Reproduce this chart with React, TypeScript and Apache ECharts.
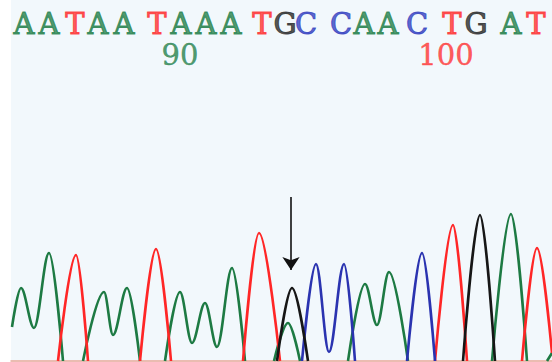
import React, { useEffect, useRef } from "react";
import * as echarts from "echarts";

// Base calls and their scan positions
const baseCalls = ["A","A","T","A","A","T","A","A","A","T","G","C","C","A","A","C","T","G","A","T"];
const baseX = [24,49,75,98,124,157,181,206,231,262,285,306,341,364,388,417,452,476,511,536];
const positionLabels = ["90", "100"];
const positionX = [180, 446];
const positionBase = ["A", "T"];

// Trace points [scan, intensity]; null breaks a trace at baseline
const traceA: (number[] | null)[] = [
  [12,34],[21,73],[34,33],[49,108],[63,0], null,
  [83,0],[104,69],[113,26],[127,73],[140,0], null,
  [165,0],[180,69],[192,18],[205,58],[217,14],[232,93],[245,0], null,
  [274,0],[288,38],[300,0], null,
  [348,0],[365,77],[377,36],[389,89],[408,0], null,
  [492,0],[511,147],[527,0], null,
  [547,0],[552,8],
];
const traceT: (number[] | null)[] = [
  [58,0],[76,106],[88,0], null,
  [140,0],[156,112],[171,0], null,
  [243,0],[259,128],[280,0], null,
  [435,0],[453,136],[467,0], null,
  [522,0],[537,113],[552,8],
];
const traceG: (number[] | null)[] = [
  [277,0],[292,73],[308,0], null,
  [463,0],[480,146],[495,0],
];
const traceC: (number[] | null)[] = [
  [302,0],[316,97],[329,9],[344,97],[355,0], null,
  [407,0],[422,108],[435,0],
];

const arrowX = 291;
const arrowFrom = 164;
const arrowTo = 91;

const traceColor: Record<string, string> = { A: "#1d7a43", T: "#ff2626", G: "#161616", C: "#2a33b0" };
const textColor: Record<string, string> = { A: "#23804a", T: "#ff3030", G: "#2a2a2a", C: "#3340c0" };

export default function App() {
  const ref = useRef<HTMLDivElement>(null);
  useEffect(() => {
    document.body.style.margin = "0";
    if (!ref.current) return;
    const chart = echarts.init(ref.current, null, { renderer: "svg" });
    const mk = (d: (number[] | null)[]) => d.map((p) => (p ? p : [null, null]));
    const lineSeries = (name: string, d: (number[] | null)[], extra: any = {}) => ({
      type: "line",
      name,
      data: mk(d),
      showSymbol: false,
      symbol: "none",
      smooth: 0.35,
      smoothMonotone: "x",
      connectNulls: false,
      lineStyle: { color: traceColor[name], width: 2.6 },
      z: 3,
      ...extra,
    });
    const fontFamily = "'DejaVu Serif', serif";
    chart.setOption({
      animation: false,
      backgroundColor: "#ffffff",
      grid: { left: 11, right: 0, top: 0, bottom: 0, show: true, backgroundColor: "#f2f8fc", borderWidth: 0 },
      xAxis: {
        type: "value", min: 11, max: 552,
        axisLine: { show: true, onZero: true, lineStyle: { color: "#e8a898", width: 1.5 } },
        axisTick: { show: false }, axisLabel: { show: false }, splitLine: { show: false },
      },
      yAxis: {
        type: "value", min: -1, max: 361,
        axisLine: { show: false }, axisTick: { show: false }, axisLabel: { show: false }, splitLine: { show: false },
      },
      series: [
        lineSeries("A", traceA),
        lineSeries("T", traceT),
        lineSeries("C", traceC),
        lineSeries("G", traceG, {
          markLine: {
            silent: true,
            symbol: ["none", "arrow"],
            symbolSize: 13,
            label: { show: false },
            lineStyle: { color: "#111", width: 1.6, type: "solid" },
            data: [[{ coord: [arrowX, arrowFrom] }, { coord: [arrowX, arrowTo] }]],
          },
        }),
        {
          type: "scatter",
          symbolSize: 1,
          itemStyle: { color: "rgba(0,0,0,0)" },
          data: baseCalls.map((b, i) => ({
            value: [baseX[i], 337, b],
            label: { color: textColor[b], textBorderColor: textColor[b] },
          })),
          label: {
            show: true, position: "inside",
            formatter: (p: any) => p.value[2],
            fontFamily, fontSize: 29, lineHeight: 24, textBorderWidth: 1,
          },
          z: 5,
        },
        {
          type: "scatter",
          symbolSize: 1,
          itemStyle: { color: "rgba(0,0,0,0)" },
          data: positionLabels.map((t, i) => ({
            value: [positionX[i], 306, t],
            label: { color: textColor[positionBase[i]], textBorderColor: textColor[positionBase[i]] },
          })),
          label: {
            show: true, position: "inside",
            formatter: (p: any) => p.value[2],
            fontFamily, fontSize: 29, lineHeight: 24, textBorderWidth: 0.4,
          },
          z: 5,
        },
      ],
    });
    return () => chart.dispose();
  }, []);
  return <div ref={ref} style={{ width: 552, height: 362 }} />;
}
